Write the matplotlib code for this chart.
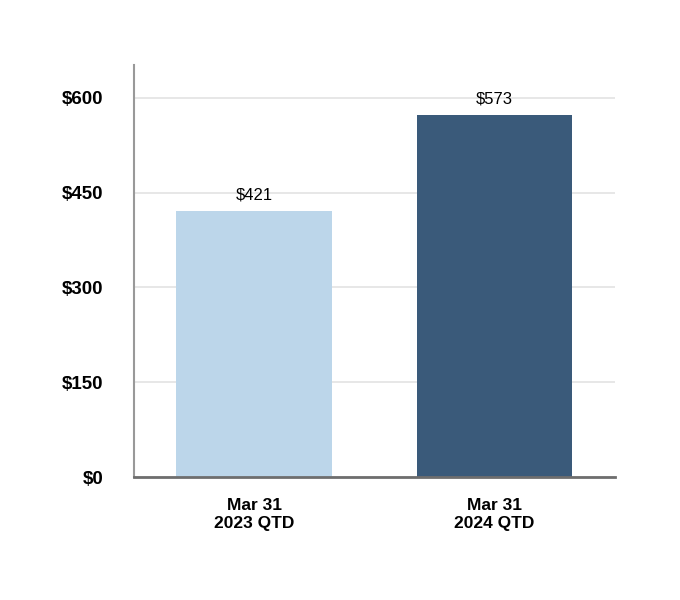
import numpy as np
import matplotlib.pyplot as plt

plt.rcParams['font.family'] = ['Liberation Sans', 'DejaVu Sans']

# data
categories = ["Mar 31\n2023 QTD", "Mar 31\n2024 QTD"]
values = [421, 573]
colors = ["#bcd6ea", "#3a5a7a"]
yticks = [0, 150, 300, 450, 600]

fig = plt.figure(figsize=(6.8, 6.0), dpi=100)
ax = fig.add_axes([0.197, 0.205, 0.707, 0.687])

x = np.arange(len(categories))
bars = ax.bar(x, values, width=0.647, color=colors, zorder=2)

for b, v in zip(bars, values):
    ax.text(b.get_x() + b.get_width() / 2, v + 13, f"${v}",
            ha="center", va="bottom", fontsize=12, color="black")

ax.set_xlim(-0.5, 1.5)
ax.set_ylim(0, 652)
ax.set_yticks(yticks)
ax.set_yticklabels([f"${t}" for t in yticks], fontsize=13.5, fontweight="bold")
ax.set_xticks(x)
ax.set_xticklabels(categories, fontsize=12.5, fontweight="bold", linespacing=1.3)

ax.yaxis.grid(True, color="#e3e3e3", linewidth=1.2, zorder=0)
ax.set_axisbelow(True)
ax.tick_params(axis="both", length=0)
ax.tick_params(axis="y", pad=22)
ax.tick_params(axis="x", pad=15)

ax.spines["top"].set_visible(False)
ax.spines["right"].set_visible(False)
ax.spines["left"].set_color("#999999")
ax.spines["left"].set_linewidth(1.5)
ax.spines["bottom"].set_color("#6e6e6e")
ax.spines["bottom"].set_linewidth(2)

plt.savefig("out.png", dpi=100)
plt.close()
